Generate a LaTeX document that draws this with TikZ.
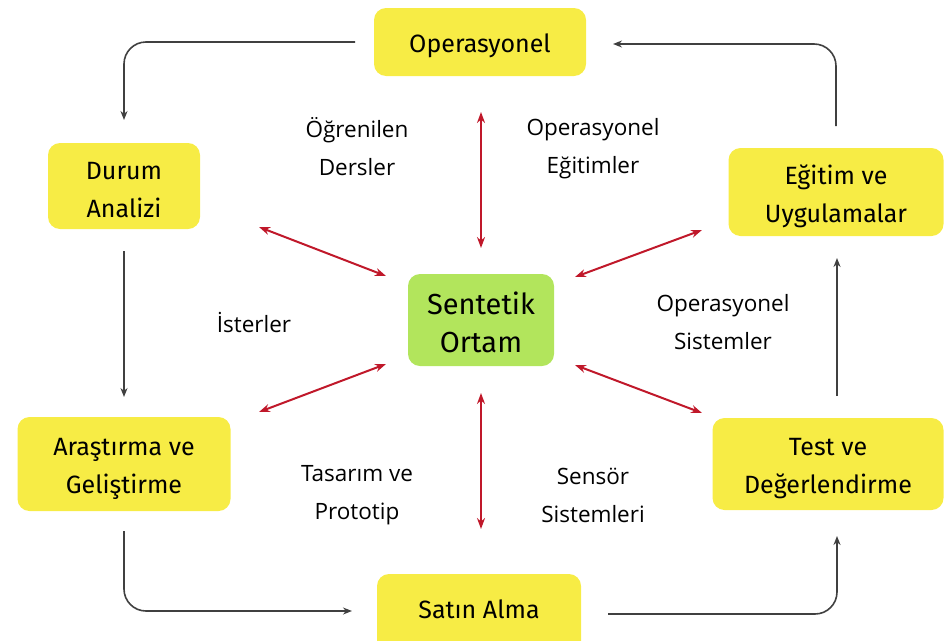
\documentclass[tikz,border=0pt]{standalone}
\usepackage{fontspec}
\setmainfont{Open Sans}
\newfontfamily\boxfont{Fira Sans}
\usetikzlibrary{arrows.meta}
\definecolor{boxyellow}{HTML}{F7EC45}
\definecolor{boxgreen}{HTML}{B2E55C}
\definecolor{linkred}{HTML}{C0182A}
\definecolor{flowgrey}{HTML}{404040}
\tikzset{
  stagebox/.style={fill=boxyellow, rounded corners=12pt, inner sep=0pt},
  corebox/.style={fill=boxgreen, rounded corners=12pt, inner sep=0pt},
  stagetext/.style={align=center, inner sep=0pt, font=\boxfont\fontsize{25}{38}\selectfont},
  coretext/.style={align=center, inner sep=0pt, font=\boxfont\fontsize{29}{38}\selectfont},
  linklabel/.style={align=center, font=\fontsize{22.5}{38}\selectfont},
  flow/.style={draw=flowgrey, line width=1.6pt, rounded corners=22pt,
    -{Stealth[length=9pt,width=7pt]}},
  link/.style={draw=linkred, line width=2pt,
    {Stealth[length=11pt,width=8pt]}-{Stealth[length=11pt,width=8pt]}},
}
\begin{document}
\begin{tikzpicture}[x=1pt,y=-1pt]
\useasboundingbox (0,0) rectangle (952,640);
\clip (0,0) rectangle (952,640);

% stages of the cycle
\node[stagebox, minimum width=212pt, minimum height=68pt] (op) at (480,42) {};
\node[stagetext] (optxt) at (480,46) {Operasyonel};
\node[stagebox, minimum width=152pt, minimum height=86pt] (durum) at (124,186) {};
\node[stagetext] (durumtxt) at (124,190) {Durum\\Analizi};
\node[stagebox, minimum width=215pt, minimum height=88pt] (egitim) at (836,192) {};
\node[stagetext] (egitimtxt) at (836,196) {Eğitim ve\\Uygulamalar};
\node[stagebox, minimum width=213pt, minimum height=94pt] (arge) at (124,464) {};
\node[stagetext] (argetxt) at (124,469) {Araştırma ve\\Geliştirme};
\node[stagebox, minimum width=231pt, minimum height=92pt] (test) at (828,464) {};
\node[stagetext] (testtxt) at (828,469) {Test ve\\Değerlendirme};
\node[stagebox, minimum width=204pt, minimum height=80pt] (satin) at (479,614) {};
\node[stagetext] (satintxt) at (479,609) {Satın Alma};

% central environment
\node[corebox, minimum width=146pt, minimum height=92pt] (core) at (481,320) {};
\node[coretext] (coretxt) at (481,322) {Sentetik\\Ortam};

% labels between the spokes
\node[linklabel] (l1) at (357,147) {Öğrenilen\\Dersler};
\node[linklabel] (l2) at (593,149) {Operasyonel\\Eğitimler};
\node[linklabel] (l3) at (254,322) {İsterler};
\node[linklabel] (l4) at (723,322) {Operasyonel\\Sistemler};
\node[linklabel] (l5) at (357,495) {Tasarım ve\\Prototip};
\node[linklabel] (l6) at (593,495) {Sensör\\Sistemleri};

% end points of the cycle arrows
\coordinate (a1) at (355,42);   \coordinate (a1c) at (124,42);  \coordinate (a1e) at (124,120);
\coordinate (b1) at (124,251);  \coordinate (b1e) at (124,397);
\coordinate (c1) at (124,531);  \coordinate (c1c) at (124,611); \coordinate (c1e) at (352,611);
\coordinate (d1) at (608,614);  \coordinate (d1c) at (837,614); \coordinate (d1e) at (837,536);
\coordinate (e1) at (837,396);  \coordinate (e1e) at (837,258);
\coordinate (f1) at (836,126);  \coordinate (f1c) at (836,44);  \coordinate (f1e) at (613,44);

\draw[flow] (a1) -- (a1c) -- (a1e);
\draw[flow] (b1) -- (b1e);
\draw[flow] (c1) -- (c1c) -- (c1e);
\draw[flow] (d1) -- (d1c) -- (d1e);
\draw[flow] (e1) -- (e1e);
\draw[flow] (f1) -- (f1c) -- (f1e);

% spokes between the environment and the stages
\coordinate (s1a) at (481,112); \coordinate (s1b) at (481,248);
\coordinate (s2a) at (481,393); \coordinate (s2b) at (481,529);
\coordinate (s3a) at (259,227); \coordinate (s3b) at (386,276);
\coordinate (s4a) at (575,277); \coordinate (s4b) at (702,230);
\coordinate (s5a) at (259,412); \coordinate (s5b) at (386,364);
\coordinate (s6a) at (575,365); \coordinate (s6b) at (702,413);

\draw[link] (s1a) -- (s1b);
\draw[link] (s2a) -- (s2b);
\draw[link] (s3a) -- (s3b);
\draw[link] (s4a) -- (s4b);
\draw[link] (s5a) -- (s5b);
\draw[link] (s6a) -- (s6b);
\end{tikzpicture}
\end{document}
